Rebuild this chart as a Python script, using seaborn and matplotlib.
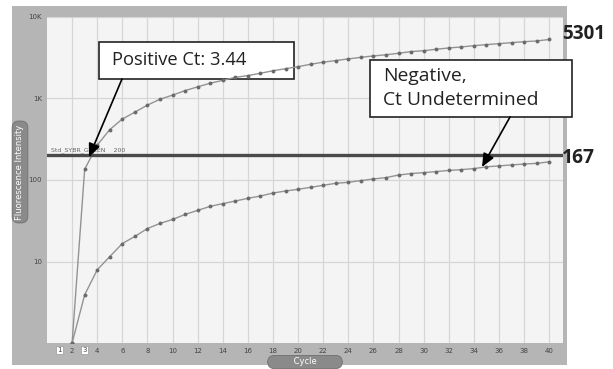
import numpy as np
import pandas as pd
import seaborn as sns
import matplotlib.pyplot as plt
from matplotlib.patches import Rectangle

# Datos (ciclos 2..40)
cycles = list(range(2, 41))
positive = [1, 135, 268, 415, 560, 680, 830, 980, 1100, 1250, 1390, 1540, 1670,
            1820, 1910, 2040, 2190, 2320, 2460, 2630, 2790, 2920, 3060, 3200,
            3330, 3440, 3590, 3760, 3860, 4020, 4170, 4290, 4450, 4580, 4710,
            4840, 4980, 5080, 5301]
negative = [1, 3.9, 7.9, 11.5, 16.6, 20.3, 25.4, 29.3, 32.8, 37.8, 42.4, 47.5,
            51.3, 55.2, 59.6, 63.6, 69.2, 73.3, 76.9, 81.3, 86.1, 91.1, 93.7,
            98.3, 103, 107, 115, 120, 123, 127, 131, 134, 138, 145, 149, 153,
            157, 160, 167]
threshold = 200
ytick_vals = [10, 100, 1000, 10000]
ytick_labels = ['10', '100', '1K', '10K']
xtick_vals = list(range(2, 41, 2))

df = pd.concat([
    pd.DataFrame({'Cycle': cycles, 'Fluorescence': positive, 'Sample': 'Positive'}),
    pd.DataFrame({'Cycle': cycles, 'Fluorescence': negative, 'Sample': 'Negative'}),
], ignore_index=True)

sns.set_style('white')
plt.rcParams['font.family'] = ['Open Sans', 'DejaVu Sans']

W, H = 613, 369
fig = plt.figure(figsize=(W / 100, H / 100), dpi=100)
fig.patch.set_facecolor('white')

# panel gris de fondo
fig.add_artist(Rectangle((12 / W, 1 - 365 / H), (567 - 12) / W, (365 - 6) / H,
                         transform=fig.transFigure, facecolor='#b5b5b5',
                         edgecolor='none', zorder=0))

ax = fig.add_axes([47 / W, 1 - 343 / H, (563 - 47) / W, (343 - 17) / H])
ax.set_facecolor('#f4f4f4')

sns.lineplot(data=df, x='Cycle', y='Fluorescence', hue='Sample',
             palette={'Positive': '#939393', 'Negative': '#939393'},
             marker='o', markersize=2.8, markeredgewidth=0,
             markerfacecolor='#6a6a6a', linewidth=1.0, legend=False, ax=ax,
             zorder=3)

ax.set_yscale('log')
ax.set_xlim(0, 41.1)
ax.set_ylim(1, 10000)

ax.set_xticks(xtick_vals)
ax.set_xticklabels([str(v) for v in xtick_vals], fontsize=5, color='#444',
                   family='DejaVu Sans')
ax.set_yticks(ytick_vals)
ax.set_yticklabels(ytick_labels, fontsize=5, color='#444', family='DejaVu Sans')
ax.yaxis.set_minor_locator(plt.NullLocator())
ax.tick_params(axis='both', length=2, width=0.6, color='#666', pad=1.5)
ax.grid(True, which='major', color='#d6d6d6', linewidth=0.9)
ax.set_xlabel('')
ax.set_ylabel('')
for s in ax.spines.values():
    s.set_visible(False)

# marcadores 1 y 3 del eje x
for xv in [1, 3]:
    ax.text(xv, -0.012, str(xv), transform=ax.get_xaxis_transform(),
            ha='center', va='top', fontsize=5, color='#444', family='DejaVu Sans',
            bbox=dict(boxstyle='square,pad=0.15', facecolor='white',
                      edgecolor='#999', linewidth=0.5), clip_on=False)

# umbral
ax.axhline(threshold, color='#4a4a4a', linewidth=2.4, zorder=4)
ax.text(0.3, threshold * 1.08, 'Std_SYBR_GREEN    200', fontsize=4.5,
        color='#666', ha='left', va='bottom', family='DejaVu Sans')

# etiquetas de ejes tipo pildora
fig.text(20 / W, 1 - 172 / H, 'Fluorescence Intensity', rotation=90,
         ha='center', va='center', fontsize=6, color='white',
         family='DejaVu Sans',
         bbox=dict(boxstyle='round,pad=0.4,rounding_size=0.8',
                   facecolor='#8a8a8a', edgecolor='#707070', linewidth=0.6))
fig.text(305 / W, 1 - 362 / H, '         Cycle         ',
         ha='center', va='center', fontsize=6, color='white',
         family='DejaVu Sans',
         bbox=dict(boxstyle='round,pad=0.25,rounding_size=0.8',
                   facecolor='#8a8a8a', edgecolor='#707070', linewidth=0.6))

# anotaciones
fig.canvas.draw()
renderer = fig.canvas.get_renderer()


def fig_to_data(px, py):
    return ax.transData.inverted().transform(
        fig.transFigure.transform((px / W, 1 - py / H)))


def fitted_text(px, py, s, width_px, size0=12, **kw):
    t = fig.text(px / W, 1 - py / H, s, fontsize=size0, **kw)
    w = t.get_window_extent(renderer).width
    t.set_fontsize(size0 * width_px / w)
    return t


arrow = dict(arrowstyle='-|>,head_length=0.8,head_width=0.35', color='black',
             linewidth=1.2, shrinkA=0, shrinkB=0)

ax.annotate('', xy=fig_to_data(89, 157), xytext=fig_to_data(122, 79),
            arrowprops=arrow, zorder=6, annotation_clip=False)
ax.annotate('', xy=fig_to_data(482, 167), xytext=fig_to_data(510, 117),
            arrowprops=arrow, zorder=6, annotation_clip=False)

# cajas por debajo de las curvas (la curva pasa por encima de la caja)
ax.add_patch(Rectangle((99 / W, 1 - 79 / H), (294 - 99) / W, (79 - 42) / H,
                       transform=fig.transFigure, facecolor='white',
                       edgecolor='#222', linewidth=1.2, zorder=2.5,
                       clip_on=False))
ax.add_patch(Rectangle((370 / W, 1 - 117 / H), (572 - 370) / W, (117 - 60) / H,
                       transform=fig.transFigure, facecolor='white',
                       edgecolor='#222', linewidth=1.2, zorder=2.5,
                       clip_on=False))

fitted_text(112, 60, 'Positive Ct: 3.44', 135, color='#222', ha='left',
            va='center', zorder=8)
t1 = fitted_text(383, 100, 'Ct Undetermined', 154, color='#222', ha='left',
                 va='center', zorder=8)
fig.text(383 / W, 1 - 76 / H, 'Negative,', fontsize=t1.get_fontsize(),
         color='#222', ha='left', va='center', zorder=8)

fitted_text(562, 34, '5301', 43, color='#222', ha='left', va='center',
            fontweight='bold', zorder=8)
fitted_text(562, 158, '167', 33, color='#222', ha='left', va='center',
            fontweight='bold', zorder=8)

fig.savefig('out.png', dpi=100)
